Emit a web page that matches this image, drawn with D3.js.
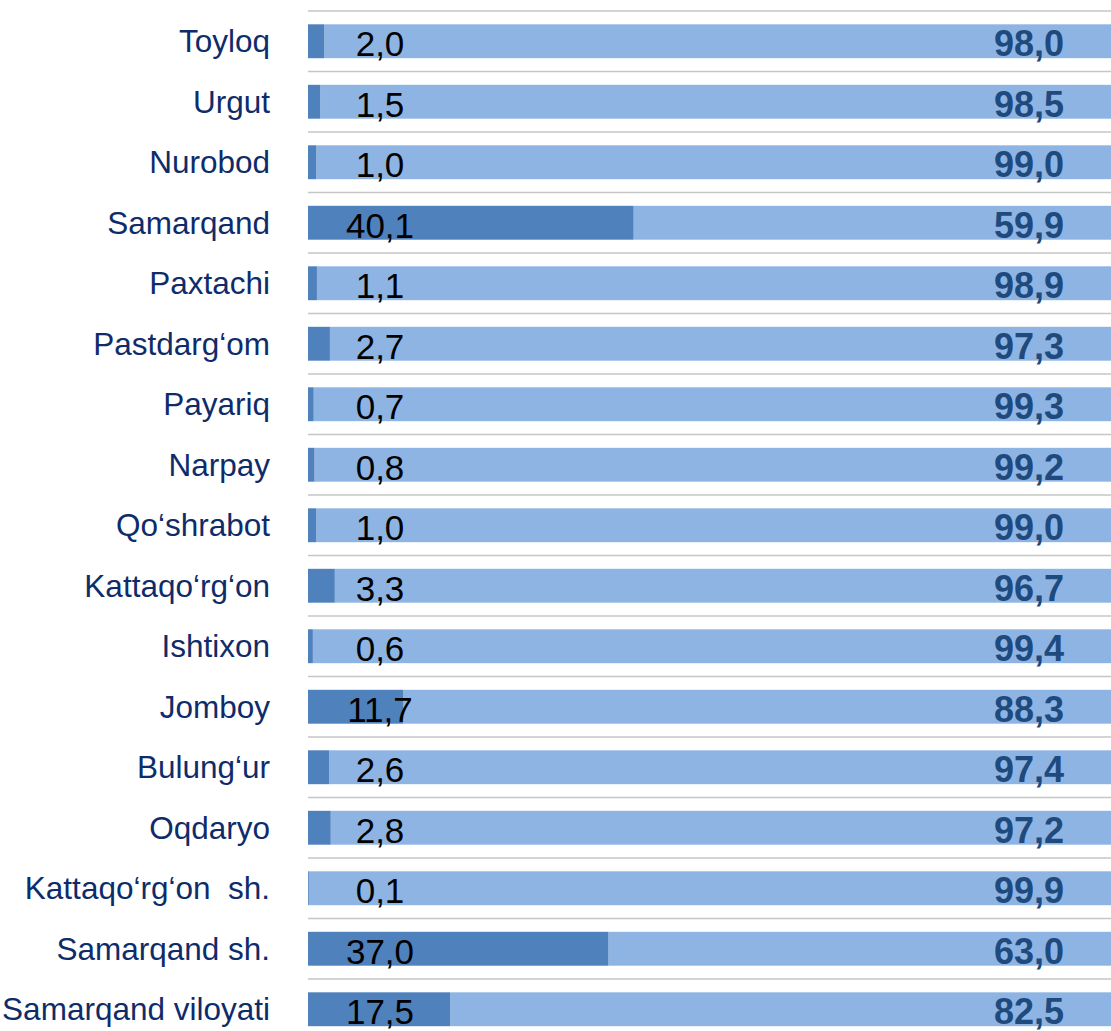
<!DOCTYPE html>
<html>
  <head>
    <style>
      body,
      html {
        margin: 0;
        padding: 0;
        background: #fff;
        overflow: hidden;
      }
      svg {
        display: block;
      }
    </style>
  </head>
  <body>
    <script src="https://cdn.jsdelivr.net/npm/d3@7/dist/d3.min.js"></script>
    <script>
      const districts = [
        "Toyloq",
        "Urgut",
        "Nurobod",
        "Samarqand",
        "Paxtachi",
        "Pastdarg‘om",
        "Payariq",
        "Narpay",
        "Qo‘shrabot",
        "Kattaqo‘rg‘on",
        "Ishtixon",
        "Jomboy",
        "Bulung‘ur",
        "Oqdaryo",
        "Kattaqo‘rg‘on  sh.",
        "Samarqand sh.",
        "Samarqand viloyati",
      ];
      const darkShare = [2.0, 1.5, 1.0, 40.1, 1.1, 2.7, 0.7, 0.8, 1.0, 3.3, 0.6, 11.7, 2.6, 2.8, 0.1, 37.0, 17.5];
      const lightShare = [98.0, 98.5, 99.0, 59.9, 98.9, 97.3, 99.3, 99.2, 99.0, 96.7, 99.4, 88.3, 97.4, 97.2, 99.9, 63.0, 82.5];

      const width = 1111;
      const height = 1031;
      const fmt = (v) => v.toFixed(1).replace(".", ",");

      const svg = d3
        .select("body")
        .append("svg")
        .attr("width", width)
        .attr("height", height);

      const x = d3.scaleLinear().domain([0, 100]).range([308, 1120]);
      const y = d3
        .scaleBand()
        .domain(districts)
        .range([11, 11 + 17 * 60.5])
        .paddingInner(0.44)
        .paddingOuter(0.22);

      // gridlines between rows
      const step = y.step();
      svg
        .selectAll("line.grid")
        .data(d3.range(districts.length + 1))
        .enter()
        .append("line")
        .attr("class", "grid")
        .attr("x1", 308)
        .attr("x2", width)
        .attr("y1", (i) => 11 + i * step)
        .attr("y2", (i) => 11 + i * step)
        .attr("stroke", "#c6c6c6")
        .attr("stroke-width", 1.5);

      const rows = districts.map((d, i) => ({
        name: d,
        dark: darkShare[i],
        light: lightShare[i],
      }));

      // light segment (remaining share)
      svg
        .selectAll("rect.light")
        .data(rows)
        .enter()
        .append("rect")
        .attr("class", "light")
        .attr("x", (d) => x(d.dark))
        .attr("y", (d) => y(d.name))
        .attr("width", (d) => x(d.dark + d.light) - x(d.dark))
        .attr("height", y.bandwidth())
        .attr("fill", "#8eb4e3");

      // dark segment
      svg
        .selectAll("rect.dark")
        .data(rows)
        .enter()
        .append("rect")
        .attr("class", "dark")
        .attr("x", x(0))
        .attr("y", (d) => y(d.name))
        .attr("width", (d) => x(d.dark) - x(0))
        .attr("height", y.bandwidth())
        .attr("fill", "#4f81bd");

      // category labels
      svg
        .selectAll("text.cat")
        .data(rows)
        .enter()
        .append("text")
        .attr("class", "cat")
        .attr("x", 270)
        .attr("y", (d) => y(d.name) + y.bandwidth() / 2 + 11)
        .attr("text-anchor", "end")
        .attr("font-family", "Liberation Sans, Arial, sans-serif")
        .attr("font-size", 31.5)
        .attr("fill", "#0e2c69")
        .style("white-space", "pre")
        .text((d) => d.name);

      // dark values
      svg
        .selectAll("text.dv")
        .data(rows)
        .enter()
        .append("text")
        .attr("class", "dv")
        .attr("x", 380)
        .attr("y", (d) => y(d.name) + y.bandwidth() / 2 + 15)
        .attr("text-anchor", "middle")
        .attr("font-family", "Liberation Sans, Arial, sans-serif")
        .attr("font-size", 35)
        .attr("fill", "#000")
        .text((d) => fmt(d.dark));

      // light values
      svg
        .selectAll("text.lv")
        .data(rows)
        .enter()
        .append("text")
        .attr("class", "lv")
        .attr("x", 1029)
        .attr("y", (d) => y(d.name) + y.bandwidth() / 2 + 15)
        .attr("text-anchor", "middle")
        .attr("font-family", "Liberation Sans, Arial, sans-serif")
        .attr("font-size", 36)
        .attr("font-weight", "bold")
        .attr("fill", "#1f4a7e")
        .text((d) => fmt(d.light));
    </script>
  </body>
</html>
